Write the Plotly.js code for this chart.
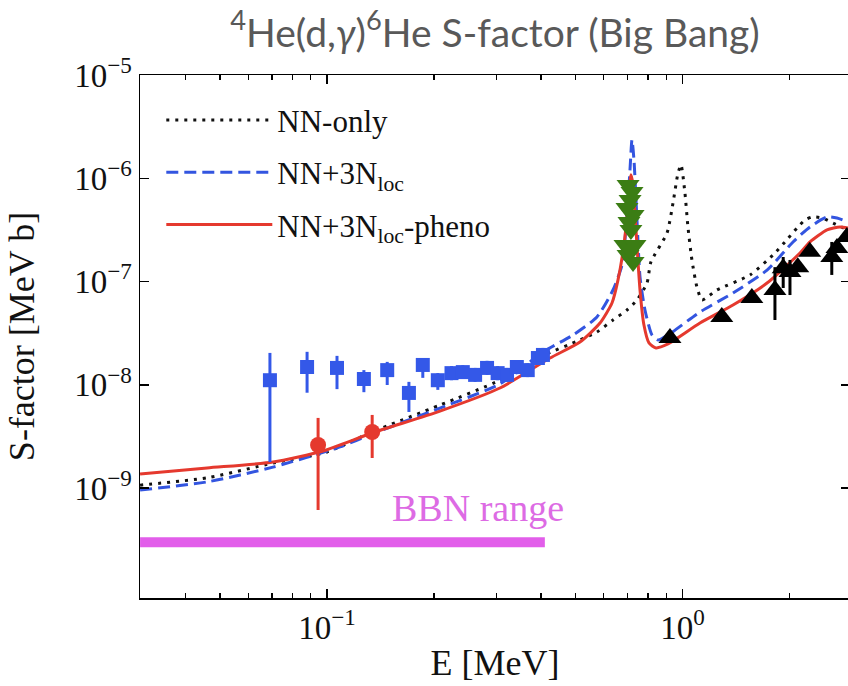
<!DOCTYPE html>
<html>
<head>
<meta charset="utf-8">
<script src="https://cdn.plot.ly/plotly-3.0.1.min.js"></script>
<style>
  html, body { margin: 0; padding: 0; overflow: hidden; background: #ffffff; }
  #chart { width: 850px; height: 686px; }
</style>
</head>
<body>
<div id="chart"></div>
<script>
// Theory curves: S-factor [MeV b] versus E [MeV]
const energyNN = [0.0298, 0.0460, 0.0705, 0.1000, 0.1338, 0.2079, 0.3066, 0.3973, 0.5148, 0.5745,
  0.6375, 0.6981, 0.7447, 0.7947, 0.8150, 0.9045, 0.9404, 0.9712, 0.9903, 1.016, 1.036, 1.063,
  1.098, 1.135, 1.250, 1.549, 1.797, 1.942, 2.099, 2.211, 2.313, 2.469, 2.651, 2.921];
const sfacNN = [1.07e-9, 1.26e-9, 1.75e-9, 2.24e-9, 3.50e-9, 6.38e-9, 1.11e-8, 1.86e-8, 2.72e-8, 3.25e-8,
  4.25e-8, 5.31e-8, 6.64e-8, 9.68e-8, 1.55e-7, 2.95e-7, 5.77e-7, 1.12e-6, 1.35e-6, 7.21e-7, 3.38e-7, 1.62e-7,
  8.87e-8, 6.64e-8, 8.29e-8, 1.16e-7, 1.81e-7, 2.42e-7, 3.30e-7, 3.94e-7, 4.22e-7, 4.13e-7, 3.69e-7, 3.16e-7];

const energy3N = [0.0298, 0.0460, 0.0705, 0.1088, 0.1338, 0.2079, 0.3066, 0.4052, 0.4920, 0.5745,
  0.6375, 0.6759, 0.6981, 0.7117, 0.7209, 0.7304, 0.7447, 0.7594, 0.7842, 0.8208, 0.8533, 0.9104,
  1.120, 1.387, 1.729, 2.046, 2.284, 2.550, 2.720, 2.921];
const sfac3N = [9.62e-10, 1.15e-9, 1.60e-9, 2.51e-9, 3.35e-9, 5.97e-9, 1.02e-8, 2.08e-8, 3.04e-8, 4.54e-8,
  8.29e-8, 1.45e-7, 4.41e-7, 1.20e-6, 2.35e-6, 1.50e-6, 3.94e-7, 1.11e-7, 5.31e-8, 3.04e-8, 2.72e-8, 3.04e-8,
  5.08e-8, 7.76e-8, 1.29e-7, 2.42e-7, 3.38e-7, 4.22e-7, 4.13e-7, 3.78e-7];

const energyPheno = [0.0298, 0.0460, 0.0705, 0.0974, 0.1338, 0.2079, 0.3066, 0.4240, 0.5148, 0.5861,
  0.6334, 0.6586, 0.6845, 0.7034, 0.7164, 0.7257, 0.7400, 0.7594, 0.7791, 0.8048, 0.8423, 0.9104,
  1.120, 1.387, 1.729, 2.141, 2.284, 2.550, 2.773, 2.921];
const sfacPheno = [1.37e-9, 1.57e-9, 1.79e-9, 2.29e-9, 3.42e-9, 5.58e-9, 9.33e-9, 1.82e-8, 2.60e-8, 3.97e-8,
  6.21e-8, 1.04e-7, 2.26e-7, 5.52e-7, 1.08e-6, 8.61e-7, 3.16e-7, 8.29e-8, 3.80e-8, 2.55e-8, 2.28e-8, 2.49e-8,
  3.97e-8, 5.93e-8, 9.68e-8, 1.89e-7, 2.42e-7, 3.16e-7, 3.38e-7, 3.30e-7];

// Measurements (blue squares)
const expBlueE = [0.0691, 0.0879, 0.1067, 0.127, 0.1477, 0.170, 0.186, 0.205, 0.224, 0.241,
  0.261, 0.282, 0.302, 0.321, 0.342, 0.367, 0.392, 0.405];
const expBlueS = [1.11e-8, 1.49e-8, 1.46e-8, 1.14e-8, 1.39e-8, 8.36e-9, 1.56e-8, 1.11e-8, 1.30e-8, 1.33e-8,
  1.25e-8, 1.46e-8, 1.30e-8, 1.25e-8, 1.49e-8, 1.39e-8, 1.82e-8, 1.95e-8];
const expBlueHi = [2.04e-8, 2.09e-8, 1.91e-8, 1.39e-8, 1.67e-8, 1.07e-8, 1.82e-8, 1.30e-8, 1.52e-8, 1.55e-8,
  1.46e-8, 1.71e-8, 1.52e-8, 1.46e-8, 1.74e-8, 1.62e-8, 2.13e-8, 2.28e-8];
const expBlueLo = [1.79e-9, 8.4e-9, 9.1e-9, 8.5e-9, 9.98e-9, 5.47e-9, 1.17e-8, 8.95e-9, 1.11e-8, 1.14e-8,
  1.07e-8, 1.25e-8, 1.11e-8, 1.07e-8, 1.27e-8, 1.19e-8, 1.56e-8, 1.67e-8];

// Measurements (red circles)
const expRedE = [0.0944, 0.134];
const expRedS = [2.62e-9, 3.50e-9];
const expRedHi = [4.79e-9, 5.12e-9];
const expRedLo = [6.15e-10, 1.96e-9];

// Resonance measurements (green)
const expGreenE = [0.703, 0.721, 0.712, 0.698, 0.726, 0.707, 0.716, 0.689, 0.735, 0.703, 0.726, 0.712];
const expGreenS = [8.61e-7, 7.36e-7, 6.16e-7, 5.15e-7, 4.41e-7, 3.78e-7, 3.16e-7, 2.26e-7, 2.26e-7, 1.81e-7, 1.55e-7, 2.02e-7];

// Measurements (black triangles)
const expBlackE = [0.922, 1.29, 1.567, 1.82, 1.92, 2.006, 2.11, 2.28, 2.63, 2.72, 2.90];
const expBlackS = [2.84e-8, 4.54e-8, 6.93e-8, 8.29e-8, 1.35e-7, 1.24e-7, 1.38e-7, 1.94e-7, 1.73e-7, 2.11e-7, 2.70e-7];
const expBlackHi = [2.84e-8, 4.54e-8, 6.93e-8, 1.38e-7, 1.73e-7, 1.62e-7, 1.38e-7, 1.94e-7, 2.42e-7, 2.11e-7, 2.70e-7];
const expBlackLo = [2.84e-8, 4.54e-8, 6.93e-8, 4.25e-8, 8.67e-8, 7.41e-8, 1.38e-7, 1.94e-7, 1.16e-7, 2.11e-7, 2.70e-7];

// Big Bang nucleosynthesis energy window
const bbnE = [0.0298, 0.41];
const bbnS = [3.0e-10, 3.0e-10];
const bbnLabel = 'BBN range';
const bbnLabelE = 0.266;
const bbnLabelS = 6.5e-10;

// Axis ticks
const xMajor = [0.1, 1];
const xMajorText = ['10<sup>\u22121</sup>', '10<sup>0</sup>'];
const xMinor = [0.04, 0.05, 0.06, 0.07, 0.08, 0.09, 0.2, 0.3, 0.4, 0.5, 0.6, 0.7, 0.8, 0.9, 2, 3];
const yMajor = [1e-9, 1e-8, 1e-7, 1e-6, 1e-5];
const yMajorText = ['10<sup>\u22129</sup>', '10<sup>\u22128</sup>', '10<sup>\u22127</sup>', '10<sup>\u22126</sup>', '10<sup>\u22125</sup>'];

const serif = 'Liberation Serif, DejaVu Serif, serif';
const xRange = [-1.526, 0.4712];

function errY(s, hi, lo, color, thickness) {
  return {
    type: 'data', symmetric: false,
    array: hi.map((h, i) => h - s[i]),
    arrayminus: lo.map((l, i) => s[i] - l),
    color: color, thickness: thickness, width: 0
  };
}

const traces = [
  {
    // drawn on the minor-tick axis, which shares the main x range
    x: bbnE, y: bbnS, xaxis: 'x2', yaxis: 'y', mode: 'lines', showlegend: false,
    line: { color: '#e25eea', width: 10 }
  },
  {
    x: energyNN, y: sfacNN, mode: 'lines', name: 'NN-only', legendgroup: 'a',
    line: { color: '#111111', width: 3, dash: '3px,6px', shape: 'spline', smoothing: 0.6 }
  },
  {
    x: energy3N, y: sfac3N, mode: 'lines', name: 'NN+3N<sub>loc</sub>', legendgroup: 'b',
    line: { color: '#3355e0', width: 3, dash: '12px,6px', shape: 'spline', smoothing: 0.6 }
  },
  {
    x: energyPheno, y: sfacPheno, mode: 'lines', name: 'NN+3N<sub>loc</sub>-pheno', legendgroup: 'c',
    line: { color: '#e5392e', width: 3, shape: 'spline', smoothing: 0.6 }
  },
  {
    x: expBlueE, y: expBlueS, mode: 'markers', showlegend: false,
    marker: { symbol: 'square', size: 14, color: '#3458e8' },
    error_y: errY(expBlueS, expBlueHi, expBlueLo, '#3458e8', 3)
  },
  {
    x: expRedE, y: expRedS, mode: 'markers', showlegend: false,
    marker: { symbol: 'circle', size: 16, color: '#e5392e' },
    error_y: errY(expRedS, expRedHi, expRedLo, '#e5392e', 3)
  },
  {
    x: expBlackE, y: expBlackS, mode: 'markers', showlegend: false,
    marker: { symbol: 'triangle-up', size: 20, color: '#000000' },
    error_y: errY(expBlackS, expBlackHi, expBlackLo, '#000000', 3)
  },
  {
    x: expGreenE, y: expGreenS, mode: 'markers', showlegend: false,
    marker: { symbol: 'triangle-down', size: 20, color: '#3b7d14' }
  }
];

const axisCommon = {
  type: 'log', showgrid: false, zeroline: false,
  showline: true, linecolor: '#000000', linewidth: 1.5, mirror: 'ticks',
  ticks: 'inside', ticklen: 9, tickwidth: 1.5, tickcolor: '#000000',
  tickfont: { family: serif, size: 33, color: '#111111' }
};

const layout = {
  width: 850, height: 686,
  margin: { l: 140, r: 0, t: 75, b: 88 },
  paper_bgcolor: '#ffffff', plot_bgcolor: '#ffffff',
  showlegend: true,
  title: {
    text: '<sup>4</sup>He(d,<i>\u03b3</i>)<sup>6</sup>He S-factor (Big Bang)',
    font: { family: 'Lato, Open Sans, sans-serif', size: 39, color: '#595959' },
    xref: 'paper', x: 0.5, xanchor: 'center',
    yref: 'container', y: 0.952, yanchor: 'middle'
  },
  xaxis: Object.assign({}, axisCommon, {
    range: xRange,
    tickmode: 'array', tickvals: xMajor, ticktext: xMajorText,
    title: { text: 'E [MeV]', font: { family: serif, size: 36, color: '#111111' }, standoff: 4 }
  }),
  xaxis2: {
    type: 'log', overlaying: 'x', anchor: 'y', side: 'bottom',
    range: xRange, showgrid: false, zeroline: false,
    showline: true, linecolor: '#000000', linewidth: 1.5,
    mirror: 'ticks', ticks: 'inside', ticklen: 5, tickwidth: 1.2, tickcolor: '#000000',
    tickmode: 'array', tickvals: xMinor, showticklabels: false
  },
  yaxis: Object.assign({}, axisCommon, {
    range: [-10.063, -5],
    tickmode: 'array', tickvals: yMajor, ticktext: yMajorText,
    title: { text: 'S-factor [MeV b]', font: { family: serif, size: 36, color: '#111111' }, standoff: 28 }
  }),
  legend: {
    x: 0.03, y: 0.965, xanchor: 'left', yanchor: 'top',
    bgcolor: 'rgba(255,255,255,0)', borderwidth: 0,
    font: { family: serif, size: 31, color: '#111111' },
    itemwidth: 106, tracegroupgap: 9
  },
  annotations: [{
    x: Math.log10(bbnLabelE), y: Math.log10(bbnLabelS), xref: 'x', yref: 'y',
    text: bbnLabel, showarrow: false,
    font: { family: serif, size: 38, color: '#dd6be4' }
  }]
};

Plotly.newPlot('chart', traces, layout, { displayModeBar: false, staticPlot: true });
</script>
</body>
</html>
